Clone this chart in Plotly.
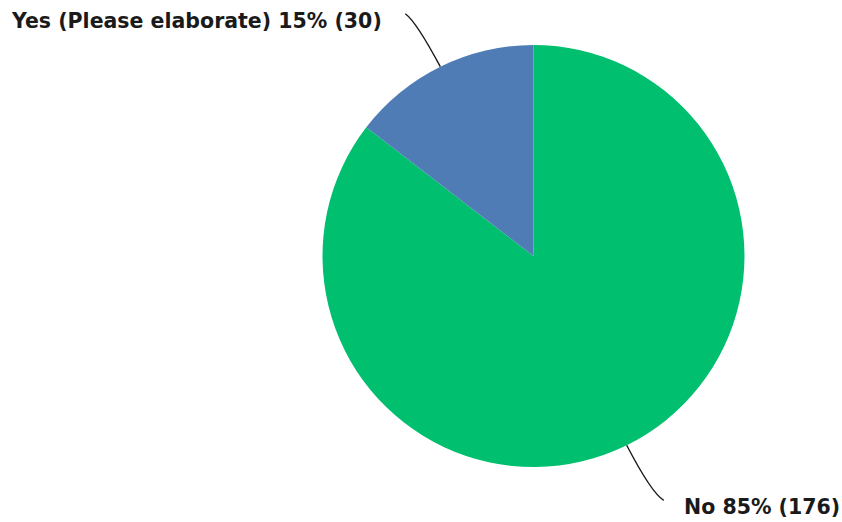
import math
import plotly.graph_objects as go

# Survey responses
labels = ["No", "Yes (Please elaborate)"]
counts = [176, 30]
colors = ["#00BF6F", "#507CB6"]

W, H = 842, 522
# pie placement in pixels (center and radius)
CX, CY, R = 533.5, 256.0, 211.0

total = sum(counts)

fig = go.Figure(
    go.Pie(
        labels=labels,
        values=counts,
        sort=False,
        direction="clockwise",
        rotation=0,
        marker=dict(colors=colors, line=dict(width=0)),
        textinfo="none",
        hoverinfo="label+value+percent",
        showlegend=False,
        domain=dict(
            x=[(CX - R) / W, (CX + R) / W],
            y=[1 - (CY + R) / H, 1 - (CY - R) / H],
        ),
    )
)


def px(x, y):
    return x / W, 1 - y / H


# leader-line bends and label anchors, relative to the slice edge point
leader = {
    "No": dict(ctrl=(25, 48), end=(37, 55), text_off=(55, 62), anchor="left"),
    "Yes (Please elaborate)": dict(ctrl=(-24, -45), end=(-35, -53), text_off=(-56, -46), anchor="right"),
}

start = 0.0
shapes, annotations = [], []
for lab, val in zip(labels, counts):
    frac = val / total
    mid = start + frac / 2
    start += frac
    ang = 2 * math.pi * mid  # clockwise from 12 o'clock
    ex, ey = CX + R * math.sin(ang), CY - R * math.cos(ang)
    cfg = leader[lab]
    cx, cy = ex + cfg["ctrl"][0], ey + cfg["ctrl"][1]
    lx, ly = ex + cfg["end"][0], ey + cfg["end"][1]
    p0, p1, p2 = px(ex, ey), px(cx, cy), px(lx, ly)
    shapes.append(dict(
        type="path", xref="paper", yref="paper",
        path=f"M {p0[0]},{p0[1]} Q {p1[0]},{p1[1]} {p2[0]},{p2[1]}",
        line=dict(color="#1a1a1a", width=1.4),
    ))
    tx, ty = px(ex + cfg["text_off"][0], ey + cfg["text_off"][1])
    pct = round(frac * 100)
    annotations.append(dict(
        x=tx, y=ty, xref="paper", yref="paper",
        text=f"{lab} {pct}% ({val})",
        showarrow=False, xanchor=cfg["anchor"], yanchor="middle",
        font=dict(family="DejaVu Sans", size=20.5, color="#1a1a1a", weight="bold"),
    ))

fig.update_layout(
    width=W, height=H,
    margin=dict(l=0, r=0, t=0, b=0),
    paper_bgcolor="white", plot_bgcolor="white",
    shapes=shapes, annotations=annotations,
)

fig.write_html("out.html")
